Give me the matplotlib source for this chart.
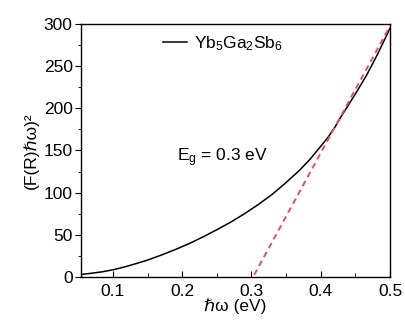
import numpy as np
import matplotlib.pyplot as plt
from matplotlib.ticker import MultipleLocator

plt.rcParams['font.family'] = ['Liberation Sans', 'DejaVu Sans']
plt.rcParams['mathtext.fontset'] = 'custom'
plt.rcParams['mathtext.rm'] = 'Liberation Sans'
plt.rcParams['mathtext.it'] = 'Liberation Sans'

# curve
energy = [0.054, 0.07, 0.085, 0.1, 0.115, 0.13, 0.15, 0.17, 0.19, 0.21, 0.23,
          0.25, 0.27, 0.29, 0.31, 0.33, 0.35, 0.37, 0.385, 0.4, 0.41, 0.42,
          0.43, 0.44, 0.45, 0.466, 0.482, 0.5]
absorb = [3, 4.5, 6.2, 8.5, 11.5, 15, 20, 26, 32.5, 39.5, 47.5,
          56, 65, 75, 86, 98, 112, 127, 140, 155, 165, 177,
          191, 204, 217, 239, 264, 295]

# linear fit for the gap
fit_x = [0.304, 0.498]
fit_slope = 1505
fit_x0 = 0.3023

fs = 12.5

fig = plt.figure(figsize=(4.06, 3.22), dpi=100)
ax = fig.add_axes([0.1995, 0.1398, 0.7611, 0.7857])

ax.plot(energy, absorb, color='black', lw=1.1, label='Yb$_5$Ga$_2$Sb$_6$')
fx = np.array(fit_x)
ax.plot(fx, fit_slope * (fx - fit_x0), color='#e8505a', lw=1.4, ls=(0, (3, 2.2)))

ax.set_xlim(0.054, 0.5)
ax.set_ylim(0, 300)
ax.xaxis.set_major_locator(MultipleLocator(0.1))
ax.xaxis.set_minor_locator(MultipleLocator(0.05))
ax.yaxis.set_major_locator(MultipleLocator(50))
ax.yaxis.set_minor_locator(MultipleLocator(25))
ax.tick_params(axis='x', which='both', direction='in', labelsize=fs, pad=5)
ax.tick_params(axis='x', which='major', length=4)
ax.tick_params(axis='x', which='minor', length=3)
ax.tick_params(axis='y', which='both', direction='out', labelsize=fs, pad=2)
ax.tick_params(axis='y', which='major', length=4)
ax.tick_params(axis='y', which='minor', length=2)
for s in ax.spines.values():
    s.set_linewidth(1.0)

ax.set_xlabel('\u210f\u03c9 (eV)', fontsize=fs, labelpad=0)
ax.set_ylabel('(F(R)\u210f\u03c9)\u00b2', fontsize=fs, labelpad=3)

ax.legend(loc='upper center', bbox_to_anchor=(0.46, 1.02), frameon=False,
          fontsize=fs, handlelength=1.4, handletextpad=0.4)
ax.text(0.192, 142, 'E$_g$ = 0.3 eV', fontsize=fs, va='center')

fig.savefig('out.png', dpi=100)
